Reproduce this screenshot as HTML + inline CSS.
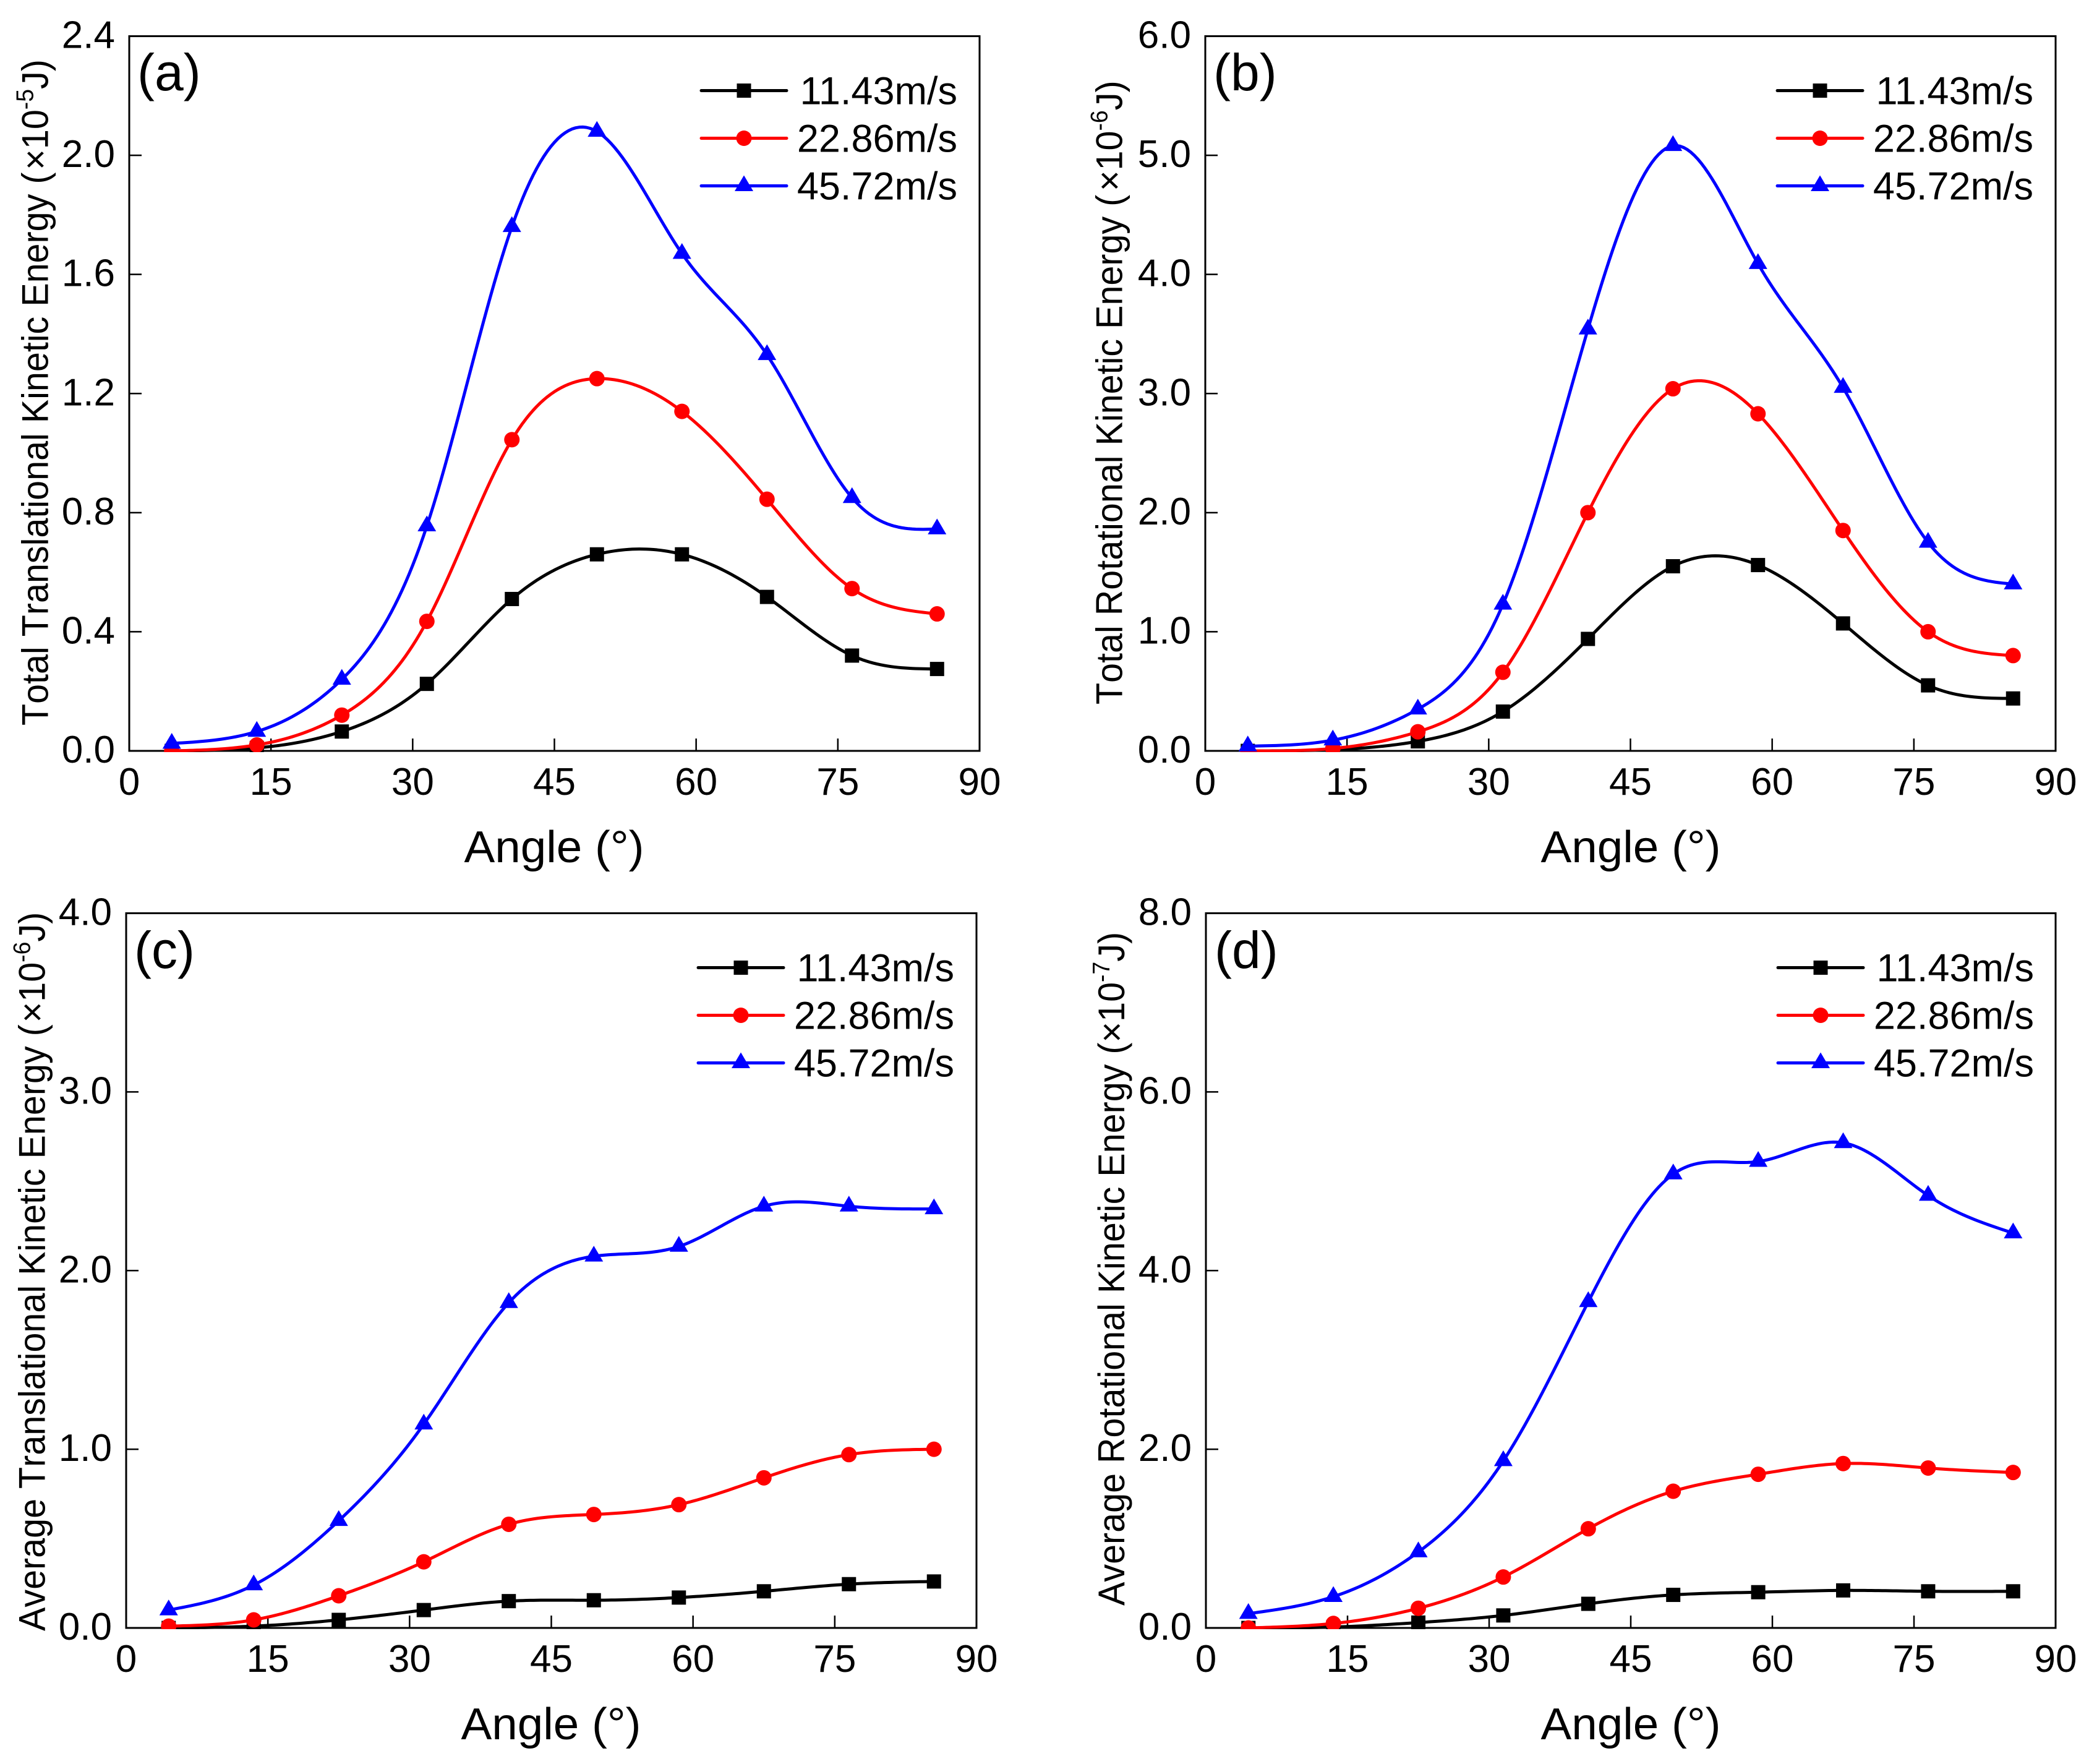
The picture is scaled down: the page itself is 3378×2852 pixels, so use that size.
<!DOCTYPE html>
<html lang="en">
<head>
<meta charset="utf-8">
<title>Kinetic energy versus angle</title>
<style>
html,body{margin:0;padding:0;background:#fff;}
svg{display:block;}
text{font-family:"Liberation Sans",Arial,sans-serif;fill:#000;}
.yt{font-size:60px;font-kerning:none;}
.xt{font-size:72px;text-anchor:middle;}
.pl{font-size:84px;}
</style>
</head>
<body>
<svg id="chart" xmlns="http://www.w3.org/2000/svg" width="3378" height="2852" viewBox="0 0 3378 2852">
<rect x="0" y="0" width="3378" height="2852" fill="#fff"/>

<g id="panel-a">
<text class="pl" x="222" y="146">(a)</text>
<text class="xt" x="896" y="1394" textLength="291" lengthAdjust="spacingAndGlyphs">Angle (°)</text>
<text class="yt" transform="translate(77.5,1173) rotate(-90) scale(0.958,1)">Total Translational Kinetic Energy (<tspan dx="4">×10</tspan><tspan font-size="39" dy="-24">-5</tspan><tspan dy="24">J)</tspan></text>
</g>

<g id="panel-b">
<text class="pl" x="1962" y="146">(b)</text>
<text class="xt" x="2637" y="1394" textLength="291" lengthAdjust="spacingAndGlyphs">Angle (°)</text>
<text class="yt" transform="translate(1814.5,1139) rotate(-90) scale(0.958,1)">Total Rotational Kinetic Energy (<tspan dx="6">×10</tspan><tspan font-size="39" dy="-24">-6</tspan><tspan dy="24">J)</tspan></text>
</g>

<g id="panel-c">
<text class="pl" x="217" y="1565">(c)</text>
<text class="xt" x="891" y="2812" textLength="291" lengthAdjust="spacingAndGlyphs">Angle (°)</text>
<text class="yt" transform="translate(72.5,2637) rotate(-90) scale(0.958,1)">Average Translational Kinetic Energy (<tspan dx="3">×10</tspan><tspan font-size="39" dy="-24">-6</tspan><tspan dy="24">J)</tspan></text>
</g>

<g id="panel-d">
<text class="pl" x="1964" y="1565">(d)</text>
<text class="xt" x="2637" y="2812" textLength="291" lengthAdjust="spacingAndGlyphs">Angle (°)</text>
<text class="yt" transform="translate(1818,2596) rotate(-90) scale(0.958,1)">Average Rotational Kinetic Energy (×10<tspan font-size="39" dy="-24">-7</tspan><tspan dy="24">J)</tspan></text>
</g>
</svg>

<script>
// Shared categories and labels
const angles = [4.5, 13.5, 22.5, 31.5, 40.5, 49.5, 58.5, 67.5, 76.5, 85.5];
const xTickValues = [0, 15, 30, 45, 60, 75, 90];
const seriesNames = ['11.43m/s', '22.86m/s', '45.72m/s'];

// Panel (a) total translational kinetic energy
const aTicks = [0, 0.4, 0.8, 1.2, 1.6, 2.0, 2.4];
const aSlow = [0, 0.01, 0.065, 0.225, 0.51, 0.66, 0.66, 0.517, 0.32, 0.275];
const aMid = [0, 0.02, 0.12, 0.435, 1.045, 1.25, 1.14, 0.845, 0.545, 0.46];
const aFast = [0.025, 0.065, 0.24, 0.755, 1.76, 2.08, 1.67, 1.33, 0.85, 0.745];

// Panel (b) total rotational kinetic energy
const bTicks = [0, 1, 2, 3, 4, 5, 6];
const bSlow = [0, 0.01, 0.08, 0.33, 0.94, 1.55, 1.56, 1.07, 0.55, 0.44];
const bMid = [0, 0.02, 0.16, 0.66, 2.0, 3.04, 2.83, 1.85, 1.0, 0.8];
const bFast = [0.04, 0.09, 0.35, 1.23, 3.54, 5.08, 4.09, 3.05, 1.75, 1.4];

// Panel (c) average translational kinetic energy
const cTicks = [0, 1, 2, 3, 4];
const cSlow = [0, 0.01, 0.045, 0.1, 0.15, 0.155, 0.17, 0.205, 0.245, 0.26];
const cMid = [0.01, 0.045, 0.18, 0.37, 0.58, 0.635, 0.69, 0.84, 0.97, 1.0];
const cFast = [0.1, 0.24, 0.6, 1.14, 1.82, 2.08, 2.135, 2.36, 2.36, 2.345];

// Panel (d) average rotational kinetic energy
const dTicks = [0, 2, 4, 6, 8];
const dSlow = [0, 0.01, 0.06, 0.14, 0.27, 0.37, 0.4, 0.42, 0.41, 0.41];
const dMid = [0, 0.05, 0.22, 0.57, 1.11, 1.53, 1.72, 1.84, 1.79, 1.74];
const dFast = [0.16, 0.35, 0.85, 1.87, 3.65, 5.08, 5.22, 5.43, 4.84, 4.42];

const NS = 'http://www.w3.org/2000/svg';
const COLORS = ['#000000', '#ff0000', '#0000ff'];
const KEYS = ['slow', 'mid', 'fast'];

function make(tag, attrs, parent) {
  const node = document.createElementNS(NS, tag);
  for (const k in attrs) node.setAttribute(k, attrs[k]);
  parent.appendChild(node);
  return node;
}

// Natural cubic spline through the data points
function splineSamples(xs, ys, perSegment) {
  const n = xs.length;
  const h = [], a = new Array(n).fill(0), c = new Array(n).fill(0), m = new Array(n).fill(0);
  for (let i = 0; i < n - 1; i++) h.push(xs[i + 1] - xs[i]);
  const alpha = new Array(n).fill(0);
  for (let i = 1; i < n - 1; i++) {
    alpha[i] = 6 * ((ys[i + 1] - ys[i]) / h[i] - (ys[i] - ys[i - 1]) / h[i - 1]);
  }
  c[0] = 0; a[0] = 0;
  for (let i = 1; i < n - 1; i++) {
    const piv = 2 * (h[i - 1] + h[i]) - h[i - 1] * c[i - 1];
    c[i] = h[i] / piv;
    a[i] = (alpha[i] - h[i - 1] * a[i - 1]) / piv;
  }
  for (let i = n - 2; i > 0; i--) m[i] = a[i] - c[i] * m[i + 1];
  const out = [];
  for (let i = 0; i < n - 1; i++) {
    for (let s = 0; s < perSegment; s++) {
      const t = s / perSegment, A = 1 - t, B = t, hh = h[i];
      const y = A * ys[i] + B * ys[i + 1] + ((A * A * A - A) * m[i] + (B * B * B - B) * m[i + 1]) * hh * hh / 6;
      out.push([xs[i] + t * hh, y]);
    }
  }
  out.push([xs[n - 1], ys[n - 1]]);
  return out;
}

function drawMarker(kind, cx, cy, parent) {
  if (kind === 0) {
    return make('rect', { x: cx - 11.5, y: cy - 11.5, width: 23, height: 23, fill: COLORS[0] }, parent);
  }
  if (kind === 1) {
    return make('circle', { cx: cx, cy: cy, r: 12.5, fill: COLORS[1] }, parent);
  }
  return make('polygon', { points: (cx) + ',' + (cy - 17) + ' ' + (cx + 15) + ',' + (cy + 8.5) + ' ' + (cx - 15) + ',' + (cy + 8.5), fill: COLORS[2] }, parent);
}

function drawPanel(id, box, yMax, yTicks, decimals, series) {
  const root = document.getElementById('panel-' + id);
  const xScale = v => box.left + (v / 90) * (box.right - box.left);
  const yScale = v => box.bottom - (v / yMax) * (box.bottom - box.top);

  const frame = make('rect', {
    x: box.left, y: box.top, width: box.right - box.left, height: box.bottom - box.top,
    fill: 'none', stroke: '#000', 'stroke-width': 3
  }, root);
  
  

  xTickValues.forEach(v => {
    const x = xScale(v);
    if (v !== 0 && v !== 90) {
      const tick = make('line', { x1: x, x2: x, y1: box.bottom, y2: box.bottom - 20, stroke: '#000', 'stroke-width': 2.5 }, root);
      
      
    }
    const label = make('text', { x: x, y: box.bottom + 71, 'font-size': 62, 'text-anchor': 'middle' }, root);
    
    
    label.textContent = String(v);
  });

  yTicks.forEach(v => {
    const y = yScale(v);
    if (v !== 0 && v !== yMax) {
      const tick = make('line', { x1: box.left, x2: box.left + 20, y1: y, y2: y, stroke: '#000', 'stroke-width': 2.5 }, root);
      
      
    }
    const label = make('text', { x: box.left - 23, y: y + 19, 'font-size': 62, 'text-anchor': 'end' }, root);
    
    
    label.textContent = v.toFixed(decimals);
  });

  const defs = make('defs', {}, root);
  const clip = make('clipPath', { id: 'clip-' + id }, defs);
  make('rect', { x: box.left, y: box.top, width: box.right - box.left, height: box.bottom - box.top + 2 }, clip);
  const plot = make('g', { 'clip-path': 'url(#clip-' + id + ')' }, root);
  
  

  series.forEach((values, s) => {
    const group = make('g', {}, plot);
    
    
    const samples = splineSamples(angles, values, 24);
    const pts = samples.map(p => xScale(p[0]).toFixed(2) + ',' + yScale(p[1]).toFixed(2)).join(' ');
    const line = make('polyline', {
      points: pts, fill: 'none', stroke: COLORS[s], 'stroke-width': 5,
      'stroke-linejoin': 'round', 'stroke-linecap': 'round'
    }, group);
    
    
    values.forEach((v, i) => {
      const mark = drawMarker(s, xScale(angles[i]), yScale(v), group);
      
      
    });
  });

  const legend = make('g', {}, root);
  
  
  seriesNames.forEach((name, s) => {
    const rowY = box.top + 88 + s * 77;
    const entry = make('g', {}, legend);
    
    
    make('line', {
      x1: box.left + 925, x2: box.left + 1063, y1: rowY, y2: rowY,
      stroke: COLORS[s], 'stroke-width': 5, 'stroke-linecap': 'round'
    }, entry);
    drawMarker(s, box.left + 994, rowY, entry);
    const label = make('text', { x: box.left + 1339, y: rowY + 22, 'font-size': 63, 'text-anchor': 'end' }, entry);
    
    
    label.textContent = name;
  });
}

drawPanel('a', { left: 209, right: 1584, top: 58.5, bottom: 1214 }, 2.4, aTicks, 1, [aSlow, aMid, aFast]);
drawPanel('b', { left: 1949, right: 3324, top: 58.5, bottom: 1214 }, 6, bTicks, 1, [bSlow, bMid, bFast]);
drawPanel('c', { left: 204, right: 1579, top: 1476.5, bottom: 2632 }, 4, cTicks, 1, [cSlow, cMid, cFast]);
drawPanel('d', { left: 1950, right: 3324, top: 1476.5, bottom: 2632 }, 8, dTicks, 1, [dSlow, dMid, dFast]);
</script>
</body>
</html>
